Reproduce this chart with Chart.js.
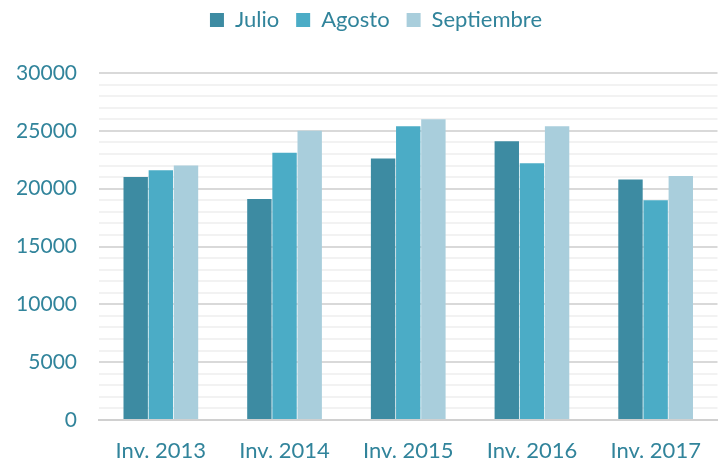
<!DOCTYPE html>
<html>
<head>
<meta charset="utf-8">
<script src="https://cdn.jsdelivr.net/npm/chart.js@4"></script>
<style>
html,body{margin:0;padding:0;background:#fff;}
#wrap{position:relative;width:719px;height:463px;}
</style>
</head>
<body>
<div id="wrap"><canvas id="c" width="719" height="463"></canvas></div>
<script>
const categories = ["Inv. 2013", "Inv. 2014", "Inv. 2015", "Inv. 2016", "Inv. 2017"];
const julio = [21000, 19100, 22600, 24100, 20800];
const agosto = [21600, 23100, 25400, 22200, 19000];
const septiembre = [22000, 25000, 26000, 25400, 21100];
const seriesNames = ["Julio", "Agosto", "Septiembre"];

const textColor = "#31849B";
const fontFamily = "Lato, 'Open Sans', sans-serif";

const legendAdjust = {
  id: "legendAdjust",
  beforeInit(chart) {
    const fit = chart.legend.fit;
    chart.legend.fit = function () {
      fit.bind(chart.legend)();
      this.height += 32;
    };
  },
  afterLayout(chart) {
    chart.legend.left += 17;
    chart.legend.right += 17;
  }
};

new Chart(document.getElementById("c"), {
  type: "bar",
  data: {
    labels: categories,
    datasets: [
      { label: seriesNames[0], data: julio, backgroundColor: "#3D8BA2" },
      { label: seriesNames[1], data: agosto, backgroundColor: "#4BACC6" },
      { label: seriesNames[2], data: septiembre, backgroundColor: "#A9CEDC" }
    ]
  },
  plugins: [legendAdjust],
  options: {
    responsive: false,
    animation: false,
    devicePixelRatio: 1,
    layout: { padding: { left: 0, right: 1, top: -8, bottom: 0 } },
    datasets: { bar: { categoryPercentage: 0.61, barPercentage: 0.97 } },
    plugins: {
      legend: {
        position: "top",
        labels: {
          color: textColor,
          font: { family: fontFamily, size: 22 },
          boxWidth: 14, boxHeight: 14, padding: 17
        }
      },
      tooltip: { enabled: false }
    },
    scales: {
      x: {
        grid: { display: false, drawTicks: false },
        border: { display: true, color: "#d0d0d0", width: 2 },
        ticks: { color: textColor, font: { family: fontFamily, size: 22 }, padding: 18 },
        afterFit: (axis) => { axis.height = 43; }
      },
      y: {
        min: 0, max: 30000,
        border: { display: false },
        grid: {
          drawTicks: false,
          lineWidth: 2,
          color: (ctx) => (ctx.tick && ctx.tick.value % 5000 === 0) ? "#d9d9d9" : "#f2f2f2"
        },
        ticks: {
          stepSize: 1000,
          autoSkip: false,
          color: textColor,
          font: { family: fontFamily, size: 21 },
          padding: 22,
          callback: (v) => (v % 5000 === 0) ? String(v) : ""
        },
        afterFit: (axis) => { axis.width = 99; }
      }
    }
  }
});
</script>
</body>
</html>
